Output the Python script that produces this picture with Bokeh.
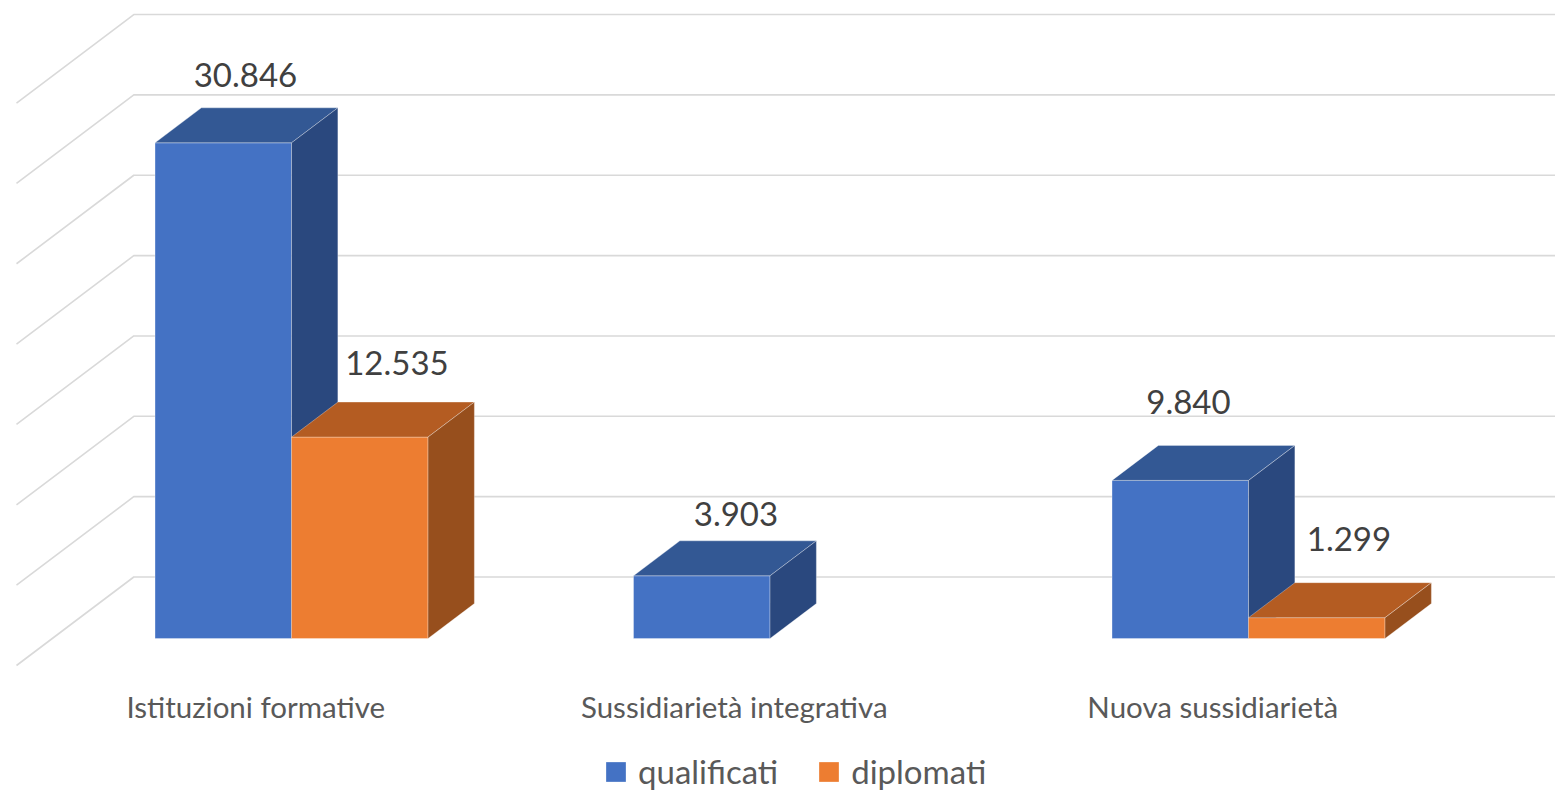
from bokeh.plotting import figure
from bokeh.models import Range1d, Legend, LegendItem
from bokeh.core.properties import value
from bokeh.embed import file_html
from bokeh.resources import INLINE

# ---------------- data ----------------
categories = ["Istituzioni formative", "Sussidiarietà integrativa", "Nuova sussidiarietà"]
series_names = ["qualificati", "diplomati"]
qualificati = [30846, 3903, 9840]
diplomati = [12535, 0, 1299]
grid_ticks = [0, 5000, 10000, 15000, 20000, 25000, 30000, 35000]

# ---------------- layout / style ----------------
W, H = 1555, 794
CAT_PX = 478.5          # px per category slot
VAL_PX = 0.01607        # px per value unit
LEFT_PX = 16            # px from frame left to floor front-left
ZERO_PX = 665           # px from frame top to zero at floor front
DX = 117.3 / CAT_PX     # depth offset in x data units
DY = 88.5 / VAL_PX      # depth offset in y data units
D0, D1 = 0.305, 0.70    # bar depth span (fraction of floor depth)
BAR_W = 136.5 / CAT_PX

FONT = "Lato"
front_colors = ["#4472C4", "#ED7D31"]
top_colors = ["#335894", "#B45C22"]
side_colors = ["#2A487E", "#974F1D"]

# per-label nudges in px (dx right, dy up) to mimic the 3D label placement
label_nudge = [[(-1, -4), (14, 2)], [(11, -10), (0, 0)], [(-15, 6), (9, 7)]]
LABEL_GAP_PX = 37       # gap between bar back-top edge and label anchor
CAT_LABEL_PX = -41.3    # category label anchor below floor front zero

x_start = -LEFT_PX / CAT_PX
x_end = (W - LEFT_PX) / CAT_PX
p = figure(width=W, height=H,
           x_range=Range1d(x_start, x_end),
           y_range=Range1d((ZERO_PX - H) / VAL_PX, ZERO_PX / VAL_PX),
           x_axis_type=None, y_axis_type=None,
           output_backend="svg", toolbar_location=None,
           min_border=0, outline_line_color=None,
           background_fill_color="white", border_fill_color="white")

# gridlines: back wall + side wall diagonals
gxs, gys = [], []
for t in grid_ticks:
    gxs.append([0, DX, x_end + 1])
    gys.append([t, t + DY, t + DY])
p.multi_line(gxs, gys, line_color="#d9d9d9", line_width=1.6)

# bars
front_renderers = []
label_x, label_y, label_text = [], [], []
for s, vals in enumerate([qualificati, diplomati]):
    left, right, bottom, top = [], [], [], []
    txs, tys, sxs, sys_ = [], [], [], []
    for i, v in enumerate(vals):
        if v <= 0:
            continue
        x0 = i + 0.5 - BAR_W + s * BAR_W
        x1 = x0 + BAR_W
        left.append(x0 + D0 * DX)
        right.append(x1 + D0 * DX)
        bottom.append(D0 * DY)
        top.append(v + D0 * DY)
        txs.append([x0 + D0 * DX, x1 + D0 * DX, x1 + D1 * DX, x0 + D1 * DX])
        tys.append([v + D0 * DY, v + D0 * DY, v + D1 * DY, v + D1 * DY])
        sxs.append([x1 + D0 * DX, x1 + D1 * DX, x1 + D1 * DX, x1 + D0 * DX])
        sys_.append([D0 * DY, D1 * DY, v + D1 * DY, v + D0 * DY])
        nx, ny = label_nudge[i][s]
        label_x.append((x0 + x1) / 2 + (D0 + D1) / 2 * DX + nx / CAT_PX)
        label_y.append(v + D1 * DY + (LABEL_GAP_PX + ny) / VAL_PX)
        label_text.append(f"{v:,}".replace(",", "."))
    r = p.quad(left=left, right=right, bottom=bottom, top=top,
               fill_color=front_colors[s], line_color="white", line_alpha=0.3, line_width=1)
    front_renderers.append(r)
    p.patches(txs, tys, fill_color=top_colors[s], line_color="white", line_alpha=0.3, line_width=1)
    p.patches(sxs, sys_, fill_color=side_colors[s], line_color="white", line_alpha=0.3, line_width=1)

# data labels
p.text(x=label_x, y=label_y, text=label_text, text_font=value(FONT),
       text_font_size="33px", text_color="#404040",
       text_align="center", text_baseline="alphabetic")

# category labels
p.text(x=[i + 0.5 for i in range(len(categories))],
       y=[CAT_LABEL_PX / VAL_PX] * len(categories), text=categories,
       text_font=value(FONT), text_font_size="29.5px", text_color="#595959",
       text_align="center", text_baseline="alphabetic")

# legend
legend = Legend(items=[LegendItem(label=series_names[k], renderers=[front_renderers[k]])
                       for k in range(2)],
                location=(603, 3), orientation="horizontal",
                padding=0, margin=0, spacing=38, label_standoff=10,
                glyph_width=25, glyph_height=25,
                border_line_color=None, background_fill_alpha=0,
                label_text_font=FONT, label_text_font_size="33px",
                label_text_color="#595959")
p.add_layout(legend)

open("out.html", "w").write(file_html(p, INLINE))
